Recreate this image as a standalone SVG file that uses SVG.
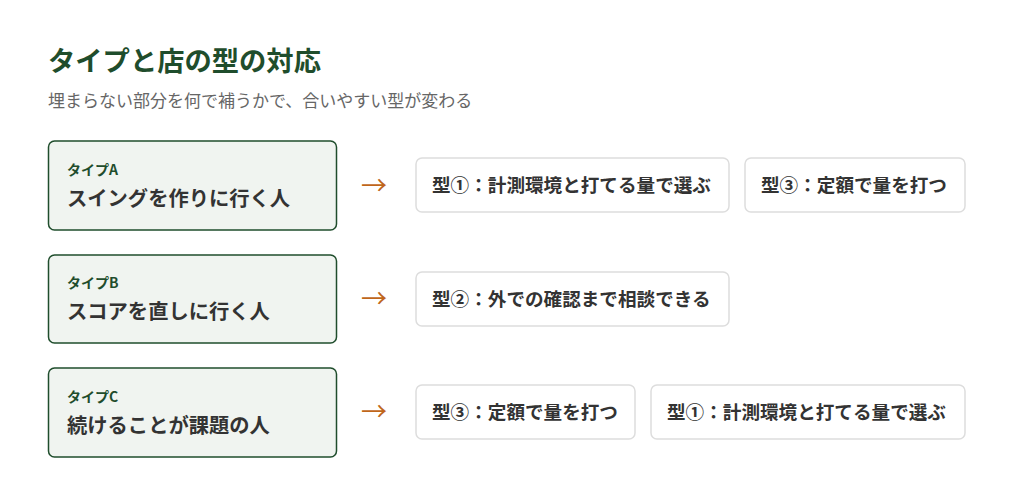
<svg xmlns="http://www.w3.org/2000/svg" width="1024" height="478" viewBox="0 0 1024 478">
<style>
text{font-family:"Noto Sans CJK JP","Noto Sans",sans-serif}
.t{font-size:27.3px;font-weight:700;fill:#1f4d2c}
.s{font-size:17px;fill:#666}
.n{fill:#f0f4f0;stroke:#1f4d2c;stroke-width:1.5}
.k{font-size:14px;font-weight:700;fill:#1f4d2c}
.l{font-size:20.3px;font-weight:700;fill:#333}
.r{fill:#fff;stroke:#ddd;stroke-width:1.5}
.m{font-size:18.6px;font-weight:700;fill:#333}
.a{font-size:26px;fill:#c0661a}
</style>
<rect width="1024" height="478" fill="#fff"/>
<text class="t" x="48" y="71">タイプと店の型の対応</text>
<text class="s" x="48" y="107">埋まらない部分を何で補うかで、合いやすい型が変わる</text>
<g id="nodeA"><rect class="n" x="48.5" y="141" width="288" height="89" rx="6"/><text class="k" x="67" y="175">タイプA</text><text class="l" x="67" y="206">スイングを作りに行く人</text></g>
<g id="nodeB"><rect class="n" x="48.5" y="255" width="288" height="88" rx="6"/><text class="k" x="67" y="288">タイプB</text><text class="l" x="67" y="319">スコアを直しに行く人</text></g>
<g id="nodeC"><rect class="n" x="48.5" y="368" width="288" height="89" rx="6"/><text class="k" x="67" y="402">タイプC</text><text class="l" x="67" y="433">続けることが課題の人</text></g>
<g id="connectors">
<text class="a" x="361" y="195">→</text>
<text class="a" x="361" y="308">→</text>
<text class="a" x="361" y="421">→</text>
</g>
<g id="a1"><rect class="r" x="416" y="158" width="313" height="54" rx="6"/><text class="m" x="432" y="192">型①：計測環境と打てる量で選ぶ</text></g>
<g id="a2"><rect class="r" x="745" y="158" width="220" height="54" rx="6"/><text class="m" x="761" y="192">型③：定額で量を打つ</text></g>
<g id="b1"><rect class="r" x="416" y="272" width="313" height="54" rx="6"/><text class="m" x="432" y="306">型②：外での確認まで相談できる</text></g>
<g id="c1"><rect class="r" x="416" y="385" width="219" height="54" rx="6"/><text class="m" x="432" y="419">型③：定額で量を打つ</text></g>
<g id="c2"><rect class="r" x="651" y="385" width="314" height="54" rx="6"/><text class="m" x="667" y="419">型①：計測環境と打てる量で選ぶ</text></g>
</svg>
